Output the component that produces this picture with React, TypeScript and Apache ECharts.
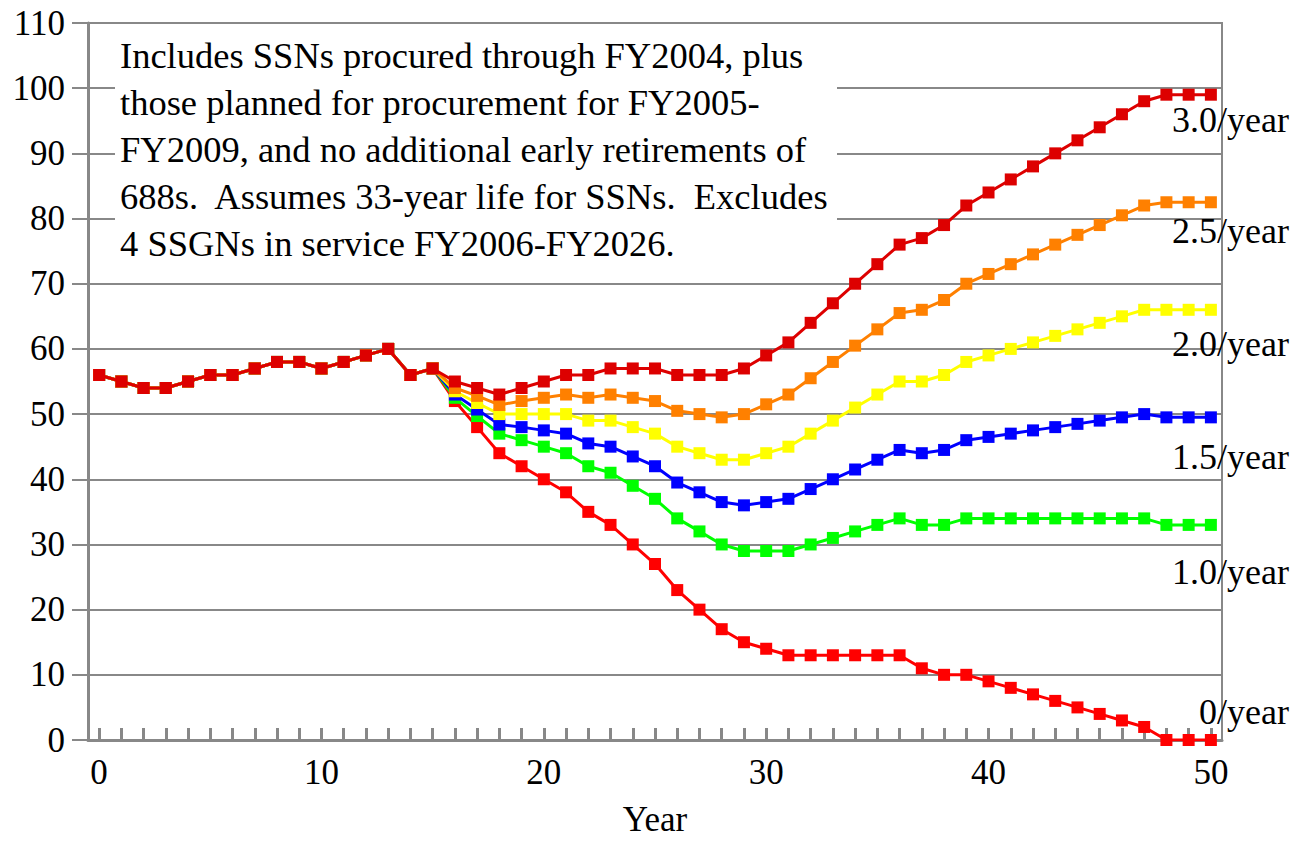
import React, { useEffect, useRef } from "react";
import * as echarts from "echarts";

const years = [
  "0","1","2","3","4","5","6","7","8","9","10","11","12","13","14","15","16","17","18","19","20",
  "21","22","23","24","25","26","27","28","29","30","31","32","33","34","35","36","37","38","39","40",
  "41","42","43","44","45","46","47","48","49","50",
];
const xTickLabels = ["0", "10", "20", "30", "40", "50"];

// Years 0-15, shared by every scenario
const common = [56, 55, 54, 54, 55, 56, 56, 57, 58, 58, 57, 58, 59, 60, 56, 57];

// Years 16-50 for each procurement rate
const rate0 = [52,48,44,42,40,38,35,33,30,27,23,20,17,15,14,13,13,13,13,13,13,11,10,10,9,8,7,6,5,4,3,2,0,0,0];
const rate10 = [52.5,49.7,47,46,45,44,42,41,39,37,34,32,30,29,29,29,30,31,32,33,34,33,33,34,34,34,34,34,34,34,34,34,33,33,33];
const rate15 = [53,50.7,48.4,48,47.5,47,45.5,45,43.5,42,39.5,38,36.5,36,36.5,37,38.5,40,41.5,43,44.5,44,44.5,46,46.5,47,47.5,48,48.5,49,49.5,50,49.5,49.5,49.5];
const rate20 = [53.5,51.7,50,50,50,50,49,49,48,47,45,44,43,43,44,45,47,49,51,53,55,55,56,58,59,60,61,62,63,64,65,66,66,66,66];
const rate25 = [54,52.8,51.4,52,52.5,53,52.5,53,52.5,52,50.5,50,49.5,50,51.5,53,55.5,58,60.5,63,65.5,66,67.5,70,71.5,73,74.5,76,77.5,79,80.5,82,82.5,82.5,82.5];
const rate30 = [55,54,53,54,55,56,56,57,57,57,56,56,56,57,59,61,64,67,70,73,76,77,79,82,84,86,88,90,92,94,96,98,99,99,99];

const seriesNames = ["0/year", "1.0/year", "1.5/year", "2.0/year", "2.5/year", "3.0/year"];
const seriesTails = [rate0, rate10, rate15, rate20, rate25, rate30];
const seriesColors = ["#FF0000", "#00FF00", "#0000FF", "#FFFF00", "#FF8000", "#DD0000"];

const noteLines = [
  "Includes SSNs procured through FY2004, plus",
  "those planned for procurement for FY2005-",
  "FY2009, and no additional early retirements of",
  "688s.  Assumes 33-year life for SSNs.  Excludes",
  "4 SSGNs in service FY2006-FY2026.",
];

const FONT = '"Liberation Serif", "Times New Roman", serif';
const GRAY = "#888888";

export default function App() {
  const ref = useRef<HTMLDivElement>(null);
  useEffect(() => {
    if (!ref.current) return;
    const chart = echarts.init(ref.current, null, { renderer: "svg" });

    const series = seriesNames.map((name, k) => ({
      name,
      type: "line",
      data: [...common, ...seriesTails[k]],
      symbol: "rect",
      symbolSize: 12,
      showSymbol: true,
      lineStyle: { color: seriesColors[k], width: 3 },
      itemStyle: { color: seriesColors[k] },
      z: 2 + k,
    }));

    const rightLabelY = [712, 572, 457, 344, 231, 120];
    const graphics: any[] = [
      {
        type: "rect",
        z: 10,
        shape: { x: 115, y: 25, width: 722, height: 256 },
        style: { fill: "#ffffff" },
      },
      ...noteLines.map((t, i) => ({
        type: "text",
        z: 11,
        x: 120,
        y: 55 + i * 47,
        style: {
          text: t,
          fontSize: 36.5,
          fontFamily: FONT,
          fill: "#000",
          align: "left",
          verticalAlign: "middle",
        },
      })),
      ...seriesNames.map((n, i) => ({
        type: "text",
        z: 11,
        x: 1289,
        y: rightLabelY[i],
        style: {
          text: n,
          fontSize: 36,
          fontFamily: FONT,
          fill: "#000",
          align: "right",
          verticalAlign: "middle",
        },
      })),
    ];

    chart.setOption({
      animation: false,
      backgroundColor: "#ffffff",
      grid: {
        left: 88,
        right: 75,
        top: 23,
        bottom: 95,
        show: true,
        borderColor: GRAY,
        borderWidth: 2,
      },
      xAxis: {
        type: "category",
        data: years,
        boundaryGap: true,
        name: "Year",
        nameLocation: "middle",
        nameGap: 62,
        nameTextStyle: { fontSize: 35, fontFamily: FONT, color: "#000" },
        axisLine: { show: true, lineStyle: { color: GRAY, width: 3 } },
        axisTick: {
          show: true,
          inside: true,
          alignWithLabel: true,
          interval: 0,
          length: 12,
          lineStyle: { color: GRAY, width: 3 },
        },
        axisLabel: {
          interval: 0,
          formatter: (v: string) => (xTickLabels.includes(v) ? v : ""),
          fontSize: 35,
          fontFamily: FONT,
          color: "#000",
          margin: 15,
        },
        splitLine: { show: false },
      },
      yAxis: {
        type: "value",
        min: 0,
        max: 110,
        interval: 10,
        axisLine: { show: true, lineStyle: { color: GRAY, width: 3 } },
        axisTick: { show: true, inside: false, length: 16, lineStyle: { color: GRAY, width: 2 } },
        axisLabel: { fontSize: 35, fontFamily: FONT, color: "#000", margin: 23 },
        splitLine: { show: true, lineStyle: { color: GRAY, width: 2 } },
      },
      series,
      graphic: graphics,
    });
    return () => chart.dispose();
  }, []);
  return (
    <div
      ref={ref}
      style={{ position: "fixed", left: 0, top: 0, width: 1297, height: 842 }}
    />
  );
}
